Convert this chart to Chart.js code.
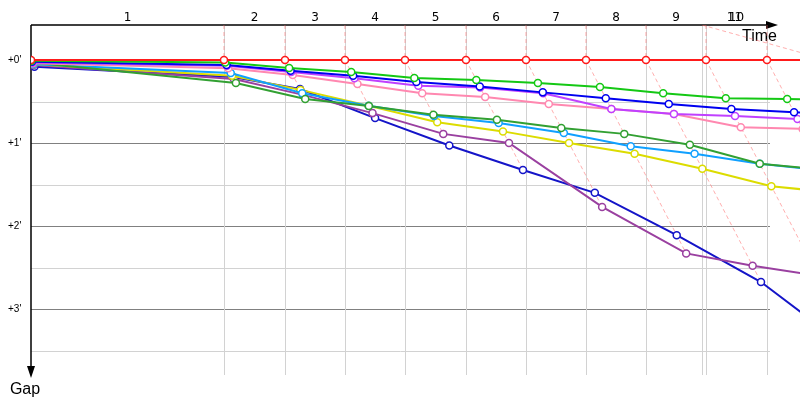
<!DOCTYPE html>
<html>
<head>
<meta charset="utf-8">
<script src="https://cdn.jsdelivr.net/npm/chart.js@4.4.1/dist/chart.umd.min.js"></script>
<style>
  html, body { margin: 0; padding: 0; background: #fff; }
  #wrap { width: 800px; height: 400px; }
</style>
</head>
<body>
<div id="wrap"><canvas id="gap"></canvas></div>
<script>
// leader's lap end times in minutes (index 0 = start)
const leaderTimes = [0, 4.488, 5.907, 7.302, 8.698, 10.116, 11.512, 12.907, 14.302, 15.698, 17.116, 18.52];
const extraLine = 15.605;
const lapLabels = ['1', '2', '3', '4', '5', '6', '7', '8', '9', '10', '11'];
const gapTicks = [0, 0.5, 1, 1.5, 2, 2.5, 3, 3.5];
const gapLabels = ["+0'", "+1'", "+2'", "+3'"];

// gap to the leader at the end of each lap (minutes), index 0 = start
const gapRed       = [0, 0, 0, 0, 0, 0, 0, 0, 0, 0, 0, 0];
const gapGreen     = [0.01, 0.03, 0.096, 0.145, 0.217, 0.24, 0.277, 0.325, 0.40, 0.46, 0.47, 0.49];
const gapBlue      = [0.02, 0.06, 0.13, 0.19, 0.265, 0.32, 0.39, 0.46, 0.53, 0.59, 0.63, 0.66];
const gapViolet    = [0.03, 0.07, 0.145, 0.22, 0.31, 0.33, 0.40, 0.59, 0.65, 0.675, 0.71, 0.74];
const gapPink      = [0.04, 0.10, 0.18, 0.29, 0.40, 0.446, 0.53, 0.59, 0.65, 0.81, 0.83, 0.86];
const gapDarkGreen = [0.03, 0.277, 0.47, 0.555, 0.66, 0.72, 0.82, 0.89, 1.02, 1.25, 1.32];
const gapLightBlue = [0.05, 0.157, 0.40, 0.55, 0.675, 0.76, 0.88, 1.04, 1.13, 1.25, 1.33];
const gapYellow    = [0.05, 0.19, 0.36, 0.55, 0.75, 0.86, 1.0, 1.13, 1.31, 1.52, 1.6];
const gapPurple    = [0.06, 0.23, 0.42, 0.64, 0.89, 1.0, 1.77, 2.33, 2.48, 2.6];
const gapDarkBlue  = [0.08, 0.205, 0.35, 0.70, 1.03, 1.325, 1.60, 2.11, 2.675, 3.57];

const drivers = [
    { gaps: gapRed, color: '#ff1a1a' },
    { gaps: gapGreen, color: '#14c814' },
    { gaps: gapBlue, color: '#0000f0' },
    { gaps: gapViolet, color: '#c040ff' },
    { gaps: gapPink, color: '#ff88b0' },
    { gaps: gapDarkGreen, color: '#32a032' },
    { gaps: gapLightBlue, color: '#10a0ff' },
    { gaps: gapYellow, color: '#dcdc00' },
    { gaps: gapPurple, color: '#9a40a0' },
    { gaps: gapDarkBlue, color: '#1414c8' }
];

const yMin = -0.4217, yMax = 3.795, xMax = 17.884;

const datasets = drivers.map(d => ({
    data: d.gaps.map((g, i) => ({ x: leaderTimes[i] + g, y: g })),
    borderColor: d.color,
    borderWidth: 2,
    pointRadius: 3.5,
    pointBorderWidth: 1.5,
    pointBackgroundColor: '#fff',
    pointBorderColor: d.color,
    tension: 0,
    order: 0
}));

// dashed lap guides: from the top down to the leader, then along equal-lap diagonal
for (let n = 1; n < leaderTimes.length; n++) {
    const gaps = drivers.map(d => d.gaps[n]).filter(g => g !== undefined);
    const maxGap = Math.max(...gaps);
    const startX = n === 11 ? extraLine : leaderTimes[n];
    datasets.push({
        data: [
            { x: startX, y: yMin },
            { x: leaderTimes[n], y: 0 },
            { x: leaderTimes[n] + maxGap, y: maxGap }
        ],
        borderColor: 'rgba(255,110,110,0.55)',
        borderWidth: 1,
        borderDash: [4, 3],
        pointRadius: 0,
        order: 10
    });
}

const gapChartDecor = {
    id: 'gapChartDecor',
    beforeDatasetsDraw(chart) {
        const { ctx, chartArea: a, scales: { x, y } } = chart;
        ctx.save();
        ctx.lineWidth = 1;
        const gridRight = x.getPixelForValue(leaderTimes[10]) + 3;
        gapTicks.forEach(v => {
            const py = Math.round(y.getPixelForValue(v)) + 0.5;
            ctx.strokeStyle = Number.isInteger(v) ? '#808080' : '#d2d2d2';
            ctx.beginPath();
            ctx.moveTo(a.left, py);
            ctx.lineTo(gridRight, py);
            ctx.stroke();
        });
        ctx.strokeStyle = '#d2d2d2';
        leaderTimes.slice(1, 11).concat([extraLine]).forEach(t => {
            const px = Math.round(x.getPixelForValue(t)) + 0.5;
            ctx.beginPath();
            ctx.moveTo(px, a.top);
            ctx.lineTo(px, a.bottom);
            ctx.stroke();
        });

        // axes with arrows
        ctx.strokeStyle = '#000';
        ctx.fillStyle = '#000';
        ctx.lineWidth = 1.5;
        const arrowX = gridRight + 8;
        const arrowY = a.bottom + 3;
        ctx.beginPath();
        ctx.moveTo(a.left, a.top);
        ctx.lineTo(arrowX - 8, a.top);
        ctx.moveTo(a.left, a.top);
        ctx.lineTo(a.left, arrowY - 8);
        ctx.stroke();
        ctx.beginPath();
        ctx.moveTo(arrowX, a.top);
        ctx.lineTo(arrowX - 12, a.top - 4);
        ctx.lineTo(arrowX - 12, a.top + 4);
        ctx.closePath();
        ctx.fill();
        ctx.beginPath();
        ctx.moveTo(a.left, arrowY);
        ctx.lineTo(a.left - 4, arrowY - 12);
        ctx.lineTo(a.left + 4, arrowY - 12);
        ctx.closePath();
        ctx.fill();

        ctx.font = '16px "Liberation Sans", Arial, sans-serif';
        ctx.textAlign = 'right';
        ctx.textBaseline = 'alphabetic';
        ctx.fillText('Time', arrowX - 1, a.top + 16);
        ctx.textAlign = 'center';
        ctx.fillText('Gap', a.left - 6, arrowY + 16);

        // gap labels
        ctx.font = '10px "Liberation Sans", Arial, sans-serif';
        ctx.textAlign = 'left';
        ctx.textBaseline = 'middle';
        gapLabels.forEach((lab, i) => {
            ctx.fillText(lab, 8, y.getPixelForValue(i));
        });

        // lap labels
        ctx.font = '12px "DejaVu Sans", sans-serif';
        ctx.textAlign = 'center';
        lapLabels.forEach((lab, i) => {
            const n = i + 1;
            const from = n === 11 ? extraLine : leaderTimes[n - 1];
            const to = n === 11 ? leaderTimes[10] : leaderTimes[n];
            const px = (x.getPixelForValue(from) + x.getPixelForValue(to)) / 2;
            ctx.fillText(lab, px, a.top - 7);
        });
        ctx.restore();
    }
};

new Chart(document.getElementById('gap'), {
    type: 'line',
    data: { datasets },
    options: {
        responsive: true,
        maintainAspectRatio: false,
        animation: false,
        layout: { autoPadding: false, padding: { left: 31, top: 25, right: 0, bottom: 25 } },
        plugins: { legend: { display: false }, tooltip: { enabled: false } },
        scales: {
            x: { type: 'linear', min: 0, max: xMax, display: false },
            y: { type: 'linear', min: yMin, max: yMax, reverse: true, display: false }
        }
    },
    plugins: [gapChartDecor]
});
</script>
</body>
</html>
